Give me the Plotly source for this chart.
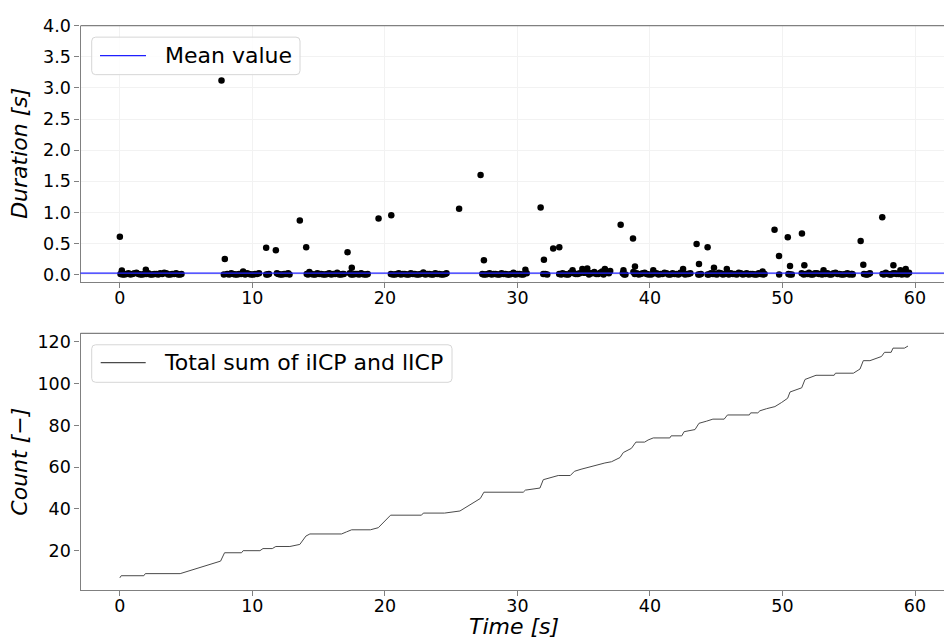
import plotly.graph_objects as go

# ---------------- data ----------------
# near-zero durations (dense bands)
t_base = [0.05, 0.35, 0.65, 0.95, 1.25, 1.55, 1.85, 2.15, 2.45, 2.75, 3.05, 3.35, 3.65, 3.95, 4.25, 4.55, 4.65,
          7.85, 8.1, 8.4, 8.7, 9.0, 9.3, 9.6, 9.9, 10.2, 10.5, 11.05, 11.25, 11.85, 12.1, 12.4, 12.7, 12.8,
          14.1, 14.3, 14.6, 14.9, 15.2, 15.5, 15.8, 16.1, 16.4, 16.7, 16.9, 17.35, 17.6, 17.9, 18.2, 18.45, 18.7,
          20.45, 20.75, 21.05, 21.35, 21.65, 21.95, 22.25, 22.55, 22.9, 23.2, 23.5, 23.8, 24.1, 24.4, 24.65,
          27.35, 27.6, 27.9, 28.2, 28.5, 28.8, 29.1, 29.4, 29.7, 30.0, 30.3, 30.6, 30.7, 31.95, 32.25,
          33.15, 33.4, 33.7, 34.0, 34.16, 34.4, 34.7, 34.9, 35.1, 35.27, 35.5, 35.8, 36.1, 36.4, 36.6, 36.8, 37.0,
          37.95, 38.0, 38.15, 38.75, 39.0, 39.3, 39.6, 39.9, 40.25, 40.5, 40.8, 41.1, 41.4, 41.7, 42.0, 42.3, 42.5,
          42.8, 43.05, 43.65, 43.85, 44.35, 44.6, 44.9, 45.2, 45.5, 45.8, 46.1, 46.4, 46.7, 47.0, 47.3, 47.6, 47.9,
          48.2, 48.5, 48.65, 49.75, 50.45, 50.7, 51.45, 51.75, 52.0, 52.3, 52.6, 52.9, 53.1, 53.4, 53.7, 54.0, 54.3,
          54.6, 54.9, 55.2, 55.3, 56.15, 56.4, 56.6, 57.55, 57.8, 58.1, 58.35, 58.6, 58.9, 59.1, 59.3, 59.55]
d_base = [0.01, 0.0, 0.02, 0.01, 0.03, 0.0, 0.01, 0.02, 0.0, 0.01, 0.02, 0.03, 0.0, 0.01, 0.02, 0.0, 0.01,
          0.0, 0.01, 0.02, 0.0, 0.01, 0.05, 0.02, 0.0, 0.01, 0.02, 0.0, 0.01, 0.02, 0.0, 0.01, 0.02, 0.0,
          0.01, 0.04, 0.0, 0.02, 0.01, 0.0, 0.02, 0.01, 0.03, 0.0, 0.01, 0.02, 0.0, 0.01, 0.02, 0.0, 0.01,
          0.01, 0.0, 0.02, 0.01, 0.0, 0.02, 0.01, 0.0, 0.035, 0.01, 0.0, 0.02, 0.01, 0.0, 0.02,
          0.01, 0.0, 0.02, 0.01, 0.0, 0.02, 0.01, 0.0, 0.03, 0.01, 0.0, 0.08, 0.02, 0.01, 0.0,
          0.01, 0.02, 0.0, 0.03, 0.07, 0.01, 0.02, 0.09, 0.03, 0.1, 0.02, 0.04, 0.01, 0.05, 0.09, 0.03, 0.06,
          0.02, 0.07, 0.0, 0.04, 0.02, 0.01, 0.03, 0.0, 0.07, 0.02, 0.01, 0.03, 0.0, 0.02, 0.01, 0.03, 0.09,
          0.01, 0.02, 0.0, 0.01, 0.0, 0.02, 0.01, 0.03, 0.0, 0.09, 0.02, 0.01, 0.03, 0.0, 0.02, 0.01, 0.0,
          0.02, 0.05, 0.01, 0.0, 0.01, 0.0, 0.02, 0.01, 0.03, 0.0, 0.02, 0.01, 0.07, 0.02, 0.0, 0.03, 0.01,
          0.0, 0.02, 0.01, 0.0, 0.01, 0.0, 0.02, 0.01, 0.03, 0.0, 0.02, 0.01, 0.07, 0.02, 0.09, 0.03]
# further near-zero samples in between (time, duration)
base_mid = [(0.2, 0.0), (0.5, 0.01), (0.8, 0.0), (1.1, 0.02), (1.4, 0.01), (1.7, 0.0), (2.0, 0.01), (2.3, 0.0),
            (2.6, 0.01), (2.9, 0.0), (3.2, 0.01), (3.5, 0.02), (3.8, 0.0), (4.1, 0.01), (4.4, 0.0),
            (8.25, 0.0), (8.55, 0.01), (8.85, 0.0), (9.15, 0.01), (9.45, 0.0), (9.75, 0.01), (10.05, 0.0),
            (10.35, 0.01), (11.15, 0.0), (11.95, 0.01), (12.25, 0.0), (12.55, 0.01),
            (14.2, 0.0), (14.45, 0.01), (14.75, 0.0), (15.05, 0.01), (15.35, 0.0), (15.65, 0.01), (15.95, 0.0),
            (16.25, 0.01), (16.55, 0.0), (16.8, 0.01), (17.45, 0.0), (17.75, 0.01), (18.05, 0.0), (18.3, 0.01),
            (18.6, 0.0),
            (20.6, 0.0), (20.9, 0.01), (21.2, 0.0), (21.5, 0.01), (21.8, 0.0), (22.1, 0.01), (22.4, 0.0),
            (22.7, 0.01), (23.05, 0.0), (23.35, 0.01), (23.65, 0.0), (23.95, 0.01), (24.25, 0.0), (24.55, 0.01),
            (27.45, 0.0), (27.75, 0.01), (28.05, 0.0), (28.35, 0.01), (28.65, 0.0), (28.95, 0.01), (29.25, 0.0),
            (29.55, 0.01), (29.85, 0.0), (30.15, 0.01), (30.45, 0.0), (32.1, 0.01),
            (33.3, 0.0), (33.55, 0.01), (33.85, 0.0), (34.25, 0.02), (34.55, 0.01), (35.0, 0.03), (35.4, 0.0),
            (35.65, 0.02), (35.95, 0.01), (36.25, 0.03), (36.5, 0.0), (36.9, 0.02), (38.05, 0.0),
            (38.85, 0.01), (39.15, 0.0), (39.45, 0.02), (39.75, 0.01), (40.1, 0.0), (40.35, 0.02), (40.65, 0.0),
            (40.95, 0.01), (41.25, 0.02), (41.55, 0.0), (41.85, 0.01), (42.15, 0.0), (42.4, 0.02), (42.65, 0.0),
            (42.9, 0.01), (43.75, 0.0),
            (44.45, 0.0), (44.75, 0.01), (45.05, 0.0), (45.35, 0.02), (45.65, 0.01), (45.95, 0.0), (46.25, 0.01),
            (46.55, 0.0), (46.85, 0.02), (47.15, 0.01), (47.45, 0.0), (47.75, 0.01), (48.05, 0.0), (48.35, 0.01),
            (48.55, 0.0), (50.55, 0.0),
            (51.6, 0.0), (51.9, 0.01), (52.15, 0.0), (52.45, 0.02), (52.75, 0.01), (53.0, 0.0), (53.25, 0.01),
            (53.55, 0.0), (53.85, 0.02), (54.15, 0.01), (54.45, 0.0), (54.75, 0.01), (55.05, 0.0), (55.25, 0.01),
            (56.3, 0.0), (56.5, 0.01),
            (57.65, 0.0), (57.95, 0.01), (58.2, 0.0), (58.5, 0.02), (58.75, 0.01), (59.0, 0.0), (59.2, 0.01),
            (59.4, 0.0)]
# larger durations
t_peak = [0.0, 0.15, 1.96, 7.67, 7.92, 11.04, 11.77, 13.58, 14.06, 17.18, 17.5, 19.52, 20.48, 25.6, 27.22,
          27.47, 31.75, 32.0, 32.7, 33.16, 37.79, 38.72, 38.87, 43.52, 43.7, 44.35, 44.83, 49.4, 49.74, 50.4,
          50.57, 51.47, 51.65, 55.9, 56.1, 57.53, 58.37]
d_peak = [0.61, 0.068, 0.079, 3.12, 0.25, 0.43, 0.39, 0.87, 0.44, 0.36, 0.11, 0.90, 0.955, 1.06, 1.60,
          0.23, 1.08, 0.24, 0.42, 0.44, 0.80, 0.58, 0.13, 0.49, 0.17, 0.44, 0.11, 0.72, 0.30, 0.60,
          0.14, 0.66, 0.15, 0.54, 0.16, 0.92, 0.15]
mean_value = 0.025

# cumulative count of iICP + lICP
t_count = [0.0, 0.1, 1.81, 1.92, 4.55, 7.6, 7.9, 9.18, 9.3, 10.57, 10.8, 11.5, 11.77, 12.83, 13.58, 14.04,
           14.34, 16.73, 17.1, 17.49, 18.9, 19.5, 20.43, 22.76, 22.9, 24.5, 25.66, 27.2, 27.47, 30.44, 30.6,
           31.7, 31.95, 33.08, 33.99, 34.3, 34.8, 35.34, 35.92, 36.6, 37.1, 37.74, 37.99, 38.6, 38.94, 39.6,
           39.86, 40.25, 41.5, 41.6, 42.4, 42.58, 43.4, 43.7, 44.26, 44.75, 45.6, 45.85, 47.5, 47.6, 48.14,
           48.3, 48.8, 49.43, 49.94, 50.39, 50.57, 51.45, 51.7, 52.2, 52.53, 53.9, 54.0, 55.35, 55.85, 56.1,
           56.6, 57.47, 57.7, 58.2, 58.34, 59.2, 59.47]
count = [7, 8, 8, 9, 9, 15, 19, 19, 20, 20, 21, 21, 22, 22, 23, 27,
         28, 28, 29, 30, 30, 31, 37, 37, 38, 38, 39, 45, 48, 48, 49,
         50, 54, 56, 56, 58, 59, 60, 61, 62, 62.6, 64.6, 67, 69, 72, 72,
         73, 74, 74, 75, 75, 77, 78, 81, 82, 83, 83, 85, 85, 86, 86,
         87, 88, 89, 91, 93, 96, 98, 102, 103, 104, 104, 105, 105, 107, 111,
         111, 113, 115, 115, 117, 117, 118]

x_ticks = [0, 10, 20, 30, 40, 50, 60]
y1_ticks = [0.0, 0.5, 1.0, 1.5, 2.0, 2.5, 3.0, 3.5, 4.0]
y2_ticks = [20, 40, 60, 80, 100, 120]

# ---------------- figure ----------------
W, H = 944, 642
FONT = "DejaVu Sans"
SPINE = "#808080"


def px(x):
    return x / W


def py(y):
    return 1 - y / H


t_all = t_base + [p[0] for p in base_mid] + t_peak
d_all = d_base + [p[1] for p in base_mid] + d_peak

fig = go.Figure()
fig.add_trace(go.Scatter(x=t_all, y=d_all, mode="markers",
                         marker=dict(color="black", size=6.5, line=dict(width=0)),
                         xaxis="x", yaxis="y", showlegend=False))
fig.add_trace(go.Scatter(x=t_count, y=count, mode="lines",
                         line=dict(color="#4a4a4a", width=1),
                         xaxis="x2", yaxis="y2", showlegend=False))

xdom = [px(80.5), 1.0]
xr = [-2.97, (W - 120) / 13.25]
common_x = dict(domain=xdom, range=xr, tickvals=x_ticks, ticks="outside", ticklen=5,
                tickcolor=SPINE, showline=True, linecolor=SPINE, linewidth=1.2,
                ticklabelstandoff=-5,
                tickfont=dict(family=FONT, size=17.5, color="black"), zeroline=False)
common_y = dict(ticks="outside", ticklen=5, tickcolor=SPINE, showline=True, linecolor=SPINE,
                linewidth=1.2, tickfont=dict(family=FONT, size=17.5, color="black"), zeroline=False)

fig.update_layout(
    width=W, height=H, margin=dict(l=0, r=0, t=0, b=0),
    paper_bgcolor="white", plot_bgcolor="white",
    xaxis=dict(**common_x, anchor="y", showgrid=True, gridcolor="#f2f2f2", gridwidth=1),
    yaxis=dict(**common_y, domain=[py(277.7), py(16)], range=[-0.12, 4.0], anchor="x",
               tickvals=y1_ticks, ticktext=[f"{v:.1f}" for v in y1_ticks],
               showgrid=True, gridcolor="#f2f2f2", gridwidth=1),
    xaxis2=dict(**common_x, anchor="y2", showgrid=False),
    yaxis2=dict(**common_y, domain=[py(591.7), py(330)], range=[1.3, 124.1], anchor="x2",
                tickvals=y2_ticks, showgrid=False),
)

shapes = []
# top spines
for yref in ("y domain", "y2 domain"):
    xref = "x domain" if yref == "y domain" else "x2 domain"
    shapes.append(dict(type="line", xref=xref, yref=yref, x0=0, x1=1, y0=1, y1=1,
                       line=dict(color=SPINE, width=1.2)))
# mean value line
shapes.append(dict(type="line", xref="x domain", yref="y", x0=0, x1=1, y0=mean_value, y1=mean_value,
                   line=dict(color="#1f1fff", width=1.2)))


def rounded_box(x0, y0, x1, y1, r=4):
    X0, X1 = px(x0), px(x1)
    Y0, Y1 = py(y0), py(y1)
    rx, ry = r / W, r / H
    return (f"M {X0 + rx},{Y0} L {X1 - rx},{Y0} Q {X1},{Y0} {X1},{Y0 - ry} "
            f"L {X1},{Y1 + ry} Q {X1},{Y1} {X1 - rx},{Y1} L {X0 + rx},{Y1} "
            f"Q {X0},{Y1} {X0},{Y1 + ry} L {X0},{Y0 - ry} Q {X0},{Y0} {X0 + rx},{Y0} Z")


legends = [
    (91.7, 27.7, 300.0, 66.0, 100.0, 146.0, 46.5, 163.0, "Mean value", "#1f1fff"),
    (91.7, 341.7, 452.0, 380.0, 100.7, 145.7, 360.0, 162.3, "Total sum of iICP and lICP", "#4a4a4a"),
]
annotations = []
for bx0, by0, bx1, by1, lx0, lx1, ly, tx, label, col in legends:
    shapes.append(dict(type="path", xref="paper", yref="paper", path=rounded_box(bx0, by0, bx1, by1),
                       fillcolor="rgba(255,255,255,0.85)", line=dict(color="#d6d6d6", width=1),
                       layer="above"))
    shapes.append(dict(type="line", xref="paper", yref="paper", x0=px(lx0), x1=px(lx1), y0=py(ly), y1=py(ly),
                       line=dict(color=col, width=1.2), layer="above"))
    annotations.append(dict(text=label, xref="paper", yref="paper", x=px(tx), y=py(ly), xanchor="left",
                            yanchor="middle", showarrow=False,
                            font=dict(family=FONT, size=22, color="black")))

# axis labels
annotations.append(dict(text="Duration [s]", xref="paper", yref="paper", x=px(20), y=py(146.8),
                        textangle=-90, showarrow=False, xanchor="center", yanchor="middle",
                        font=dict(family=FONT, size=22, color="black", style="italic")))
annotations.append(dict(text="Count [\u2212]", xref="paper", yref="paper", x=px(20), y=py(461),
                        textangle=-90, showarrow=False, xanchor="center", yanchor="middle",
                        font=dict(family=FONT, size=22, color="black", style="italic")))
annotations.append(dict(text="Time [s]", xref="paper", yref="paper", x=px(514), y=py(629),
                        showarrow=False, xanchor="center", yanchor="middle",
                        font=dict(family=FONT, size=22, color="black", style="italic")))

fig.update_layout(shapes=shapes, annotations=annotations)
fig.write_html("out.html")
